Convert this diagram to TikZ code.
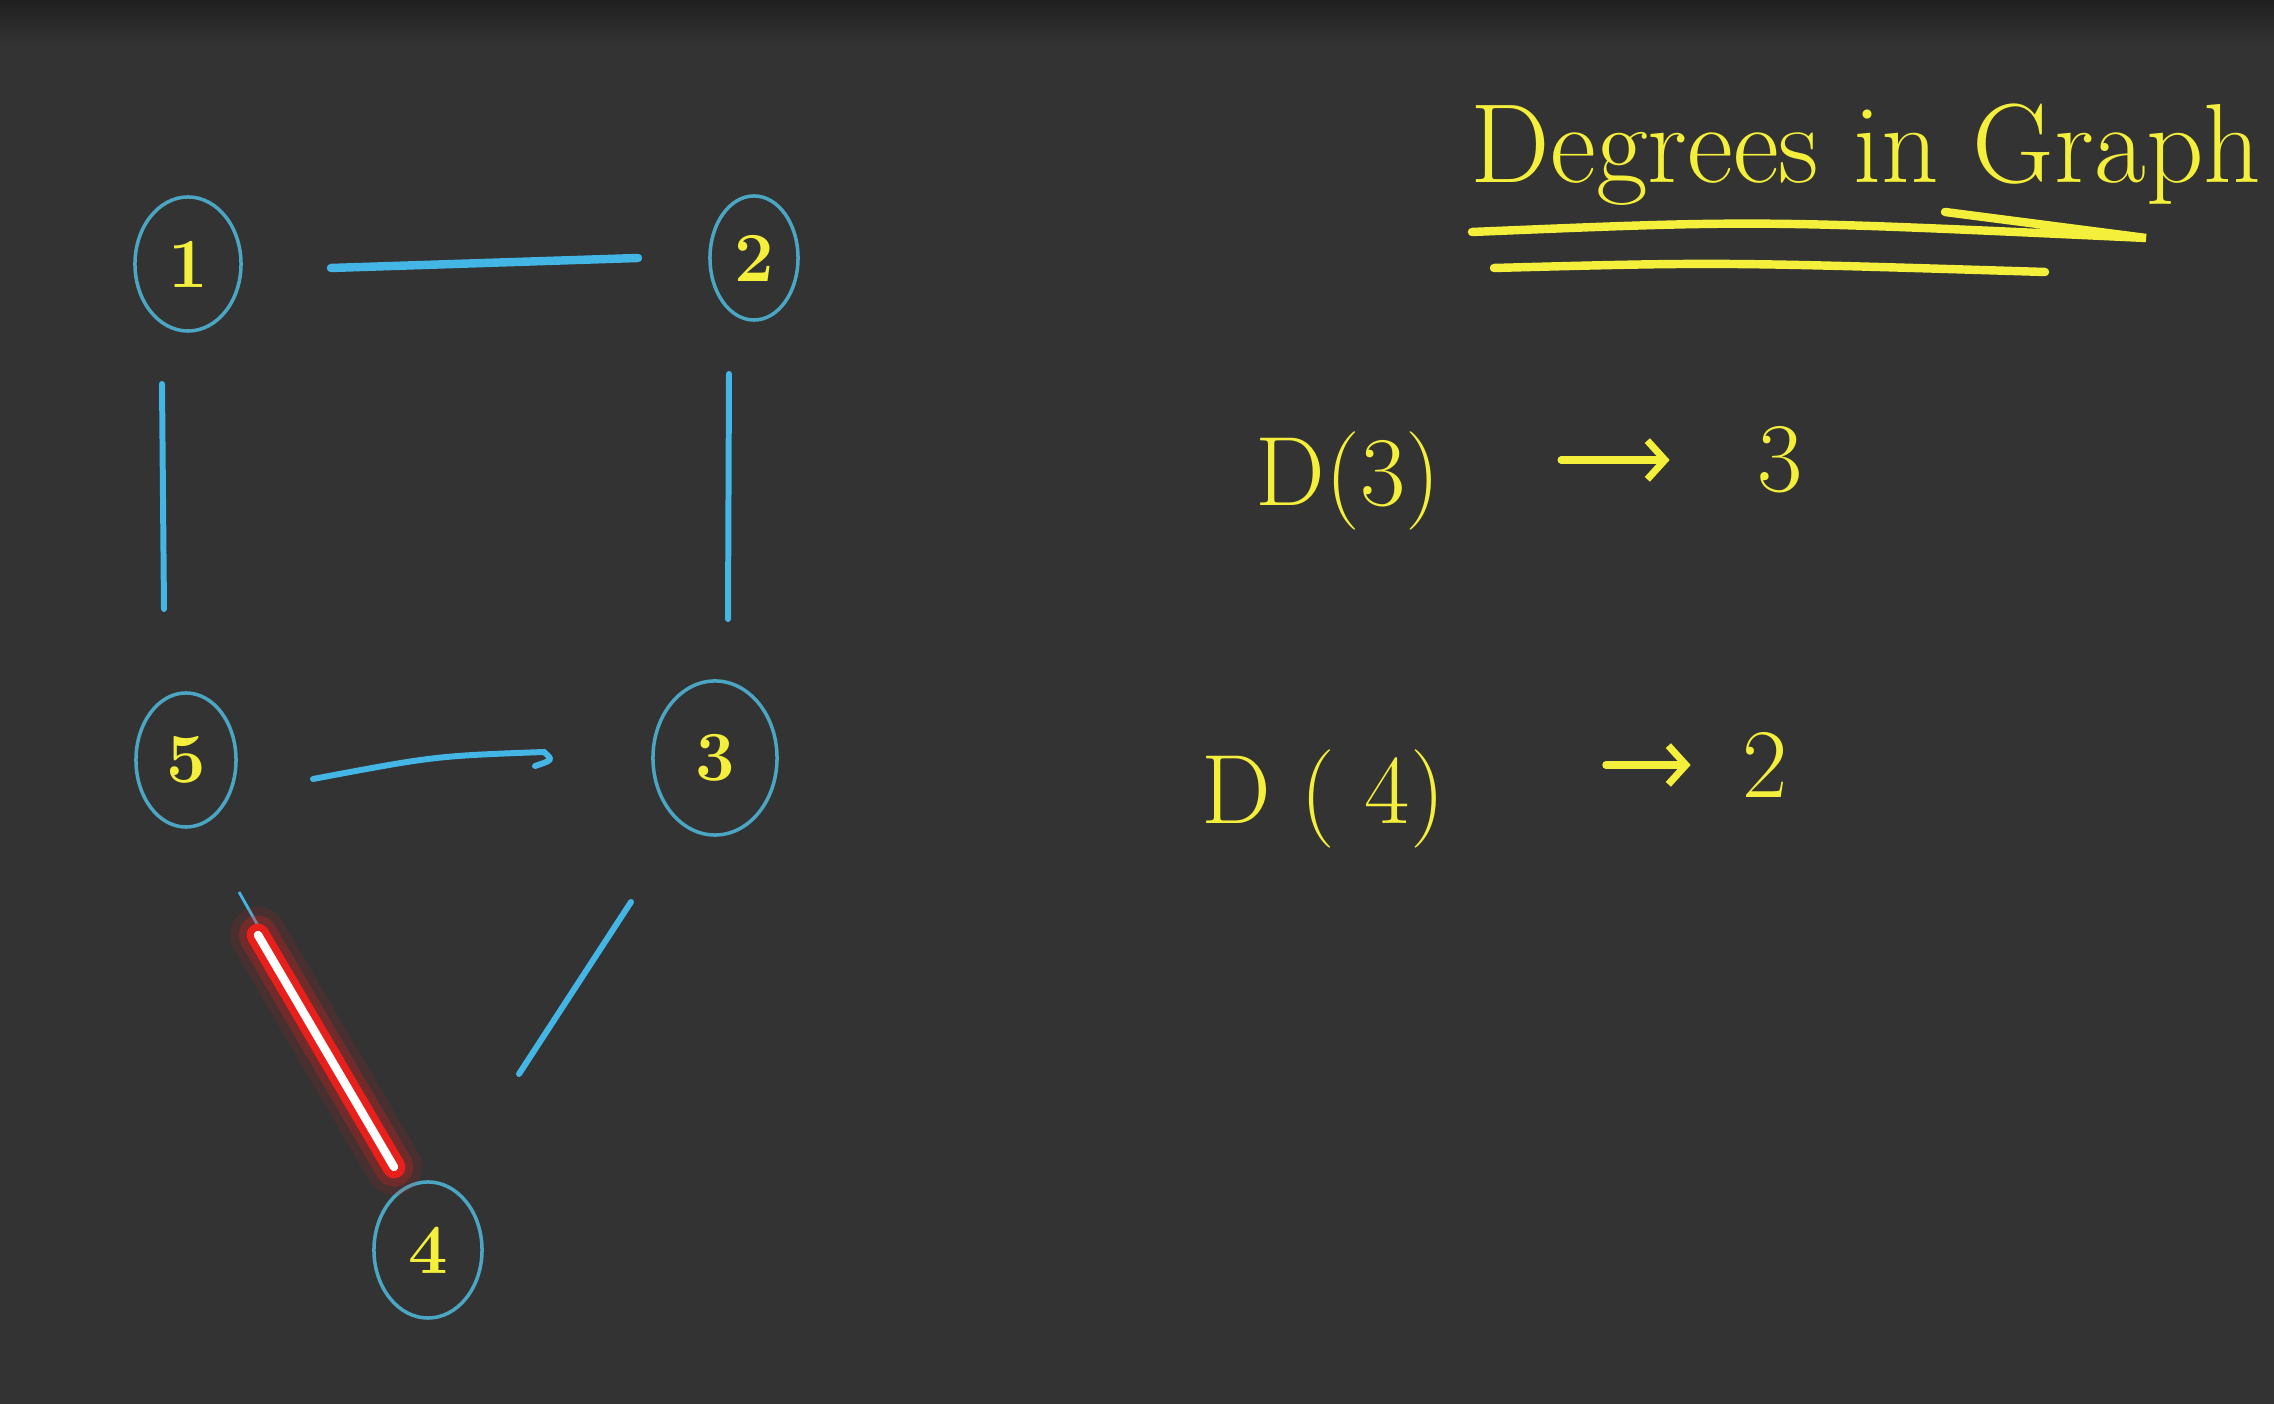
\documentclass[tikz,border=0pt]{standalone}
\usetikzlibrary{arrows.meta,calc,shapes.geometric}
\definecolor{board}{HTML}{333333}
\definecolor{chalkyellow}{HTML}{F4EF3A}
\definecolor{ringblue}{HTML}{4AA6C2}
\definecolor{edgeblue}{HTML}{44B6E6}
\definecolor{glowred}{HTML}{E8201C}

\begin{document}
\begin{tikzpicture}[x=0.01cm,y=-0.01cm,>={Straight Barb[length=5pt,width=11pt]},
  vertex/.style={ellipse,draw=ringblue,line width=1pt,inner sep=0pt,text=chalkyellow,font=\fontsize{20}{20}\selectfont\bfseries},
  edge/.style={edgeblue,line width=1.7pt,line cap=round},
  hand/.style={text=chalkyellow,font=\fontsize{28}{28}\selectfont,inner sep=0pt},
  stroke/.style={chalkyellow,line width=2.4pt,line cap=round}]
  \useasboundingbox (0,0) rectangle (2274,1404);
  \fill[board] (0,0) rectangle (2274,1404);
  \shade[top color=board!60!black,bottom color=board] (0,0) rectangle (2274,45);

  % vertices
  \node[vertex,minimum width=1.06cm,minimum height=1.34cm] (n1) at (188,264) {1};
  \node[vertex,minimum width=0.88cm,minimum height=1.24cm] (n2) at (754,258) {2};
  \node[vertex,minimum width=1.00cm,minimum height=1.34cm] (n5) at (186,760) {5};
  \node[vertex,minimum width=1.24cm,minimum height=1.54cm] (n3) at (715,758) {3};
  \node[vertex,minimum width=1.08cm,minimum height=1.36cm] (n4) at (428,1250) {4};

  % edges
  \draw[edge,line width=2.4pt] ($(n1)+(143,4)$) -- ($(n2)+(-116,0)$);
  \draw[edge] ($(n1)+(-26,120)$) -- ($(n5)+(-22,-151)$);
  \draw[edge] ($(n2)+(-25,116)$) -- ($(n3)+(13,-139)$);
  \draw[edge] ($(n5)+(127,19)$) .. controls ($(n3)+(-280,-2)$) .. ($(n3)+(-171,-6)$)
    .. controls ($(n3)+(-162,2)$) .. ($(n3)+(-180,8)$);
  \draw[edge] ($(n3)+(-84,144)$) -- ($(n4)+(91,-176)$);

  % highlighted edge 5--4
  \coordinate (g1) at ($(n5)+(72,175)$);
  \coordinate (g2) at ($(n4)+(-34,-83)$);
  \draw[edgeblue,line width=0.8pt] ($(n5)+(53,132)$) -- (g2);
  \draw[glowred,opacity=0.12,line width=16pt,line cap=round] (g1) -- (g2);
  \draw[glowred,opacity=0.25,line width=11pt,line cap=round] (g1) -- (g2);
  \draw[glowred,line width=6.5pt,line cap=round] (g1) -- (g2);
  \draw[white,line width=2.4pt,line cap=round] (g1) -- (g2);

  % title
  \node[hand,font=\fontsize{32}{32}\selectfont] (title) at (1866,155) {Degrees in Graph};
  \draw[stroke] (1472,232) .. controls (1760,220) .. (2146,238) -- (1945,212);
  \draw[stroke] (1494,268) .. controls (1720,262) .. (2045,272);

  % degrees
  \node[hand] (d3) at (1348,481) {D(3)};
  \node[hand] (r3) at (1780,460) {3};
  \draw[->,stroke,line width=2pt,shorten <=1.2cm,shorten >=0.87cm] (d3.east |- r3) -- (r3.west);
  \node[hand] (d4) at (1323,799) {D ( 4)};
  \node[hand] (r4) at (1765,765) {2};
  \draw[->,stroke,line width=2pt,shorten <=1.6cm,shorten >=0.51cm] (d4.east |- r4) -- (r4.west);
\end{tikzpicture}
\end{document}
